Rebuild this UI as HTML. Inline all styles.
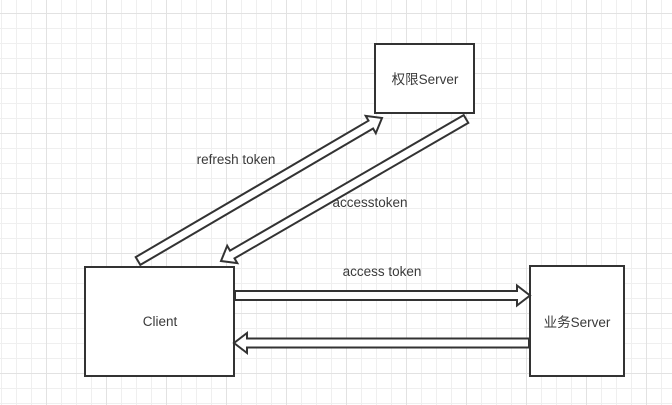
<!DOCTYPE html>
<html><head><meta charset="utf-8"><style>
html,body{margin:0;padding:0;background:#fff}
body{width:672px;height:405px;overflow:hidden;position:relative;
background-image:
linear-gradient(to right,#e2e2e2 1px,transparent 1px),
linear-gradient(to bottom,#e2e2e2 1px,transparent 1px),
linear-gradient(to right,#efefef 1px,transparent 1px),
linear-gradient(to bottom,#efefef 1px,transparent 1px);
background-size:60px 60px,60px 60px,15px 15px,15px 15px;
background-position:46px 0,0 13px,1px 0,0 13px;}
svg{position:absolute;left:0;top:0}
text{font-family:"Liberation Sans","Noto Sans CJK SC",sans-serif;font-size:13.5px;fill:#3a3a3a}
</style></head><body>
<svg width="672" height="405" id="s">
<rect x="85" y="267" width="149" height="109" fill="#fff" stroke="#333" stroke-width="2"/>
<rect x="375" y="44" width="99" height="69" fill="#fff" stroke="#333" stroke-width="2"/>
<rect x="530" y="266" width="94" height="110" fill="#fff" stroke="#333" stroke-width="2"/>
<text x="160" y="326" text-anchor="middle">Client</text>
<text x="425" y="84" text-anchor="middle">权限Server</text>
<text x="577" y="327" text-anchor="middle">业务Server</text>
<text x="236" y="164" text-anchor="middle">refresh token</text>
<text x="370" y="207" text-anchor="middle">accesstoken</text>
<text x="382" y="276" text-anchor="middle">access token</text>
</svg>
<script>
function arrow(x1,y1,x2,y2){
 var dx=x2-x1,dy=y2-y1,L=Math.hypot(dx,dy),ux=dx/L,uy=dy/L,nx=-uy,ny=ux;
 var sw=4.5,hw=10,hl=13;
 var bx=x2-ux*hl,by=y2-uy*hl;
 var p=[[x1+nx*sw,y1+ny*sw],[bx+nx*sw,by+ny*sw],[bx+nx*hw,by+ny*hw],[x2,y2],
 [bx-nx*hw,by-ny*hw],[bx-nx*sw,by-ny*sw],[x1-nx*sw,y1-ny*sw]];
 var e=document.createElementNS("http://www.w3.org/2000/svg","polygon");
 e.setAttribute("points",p.map(function(q){return q[0].toFixed(1)+","+q[1].toFixed(1)}).join(" "));
 e.setAttribute("fill","#fff");e.setAttribute("stroke","#333");e.setAttribute("stroke-width","2");
 document.getElementById("s").appendChild(e);
}
arrow(138,261,382,118);
arrow(466,119,221,261);
arrow(235,295.5,530,295.5);
arrow(529,343,234,343);
</script>
</body></html>
